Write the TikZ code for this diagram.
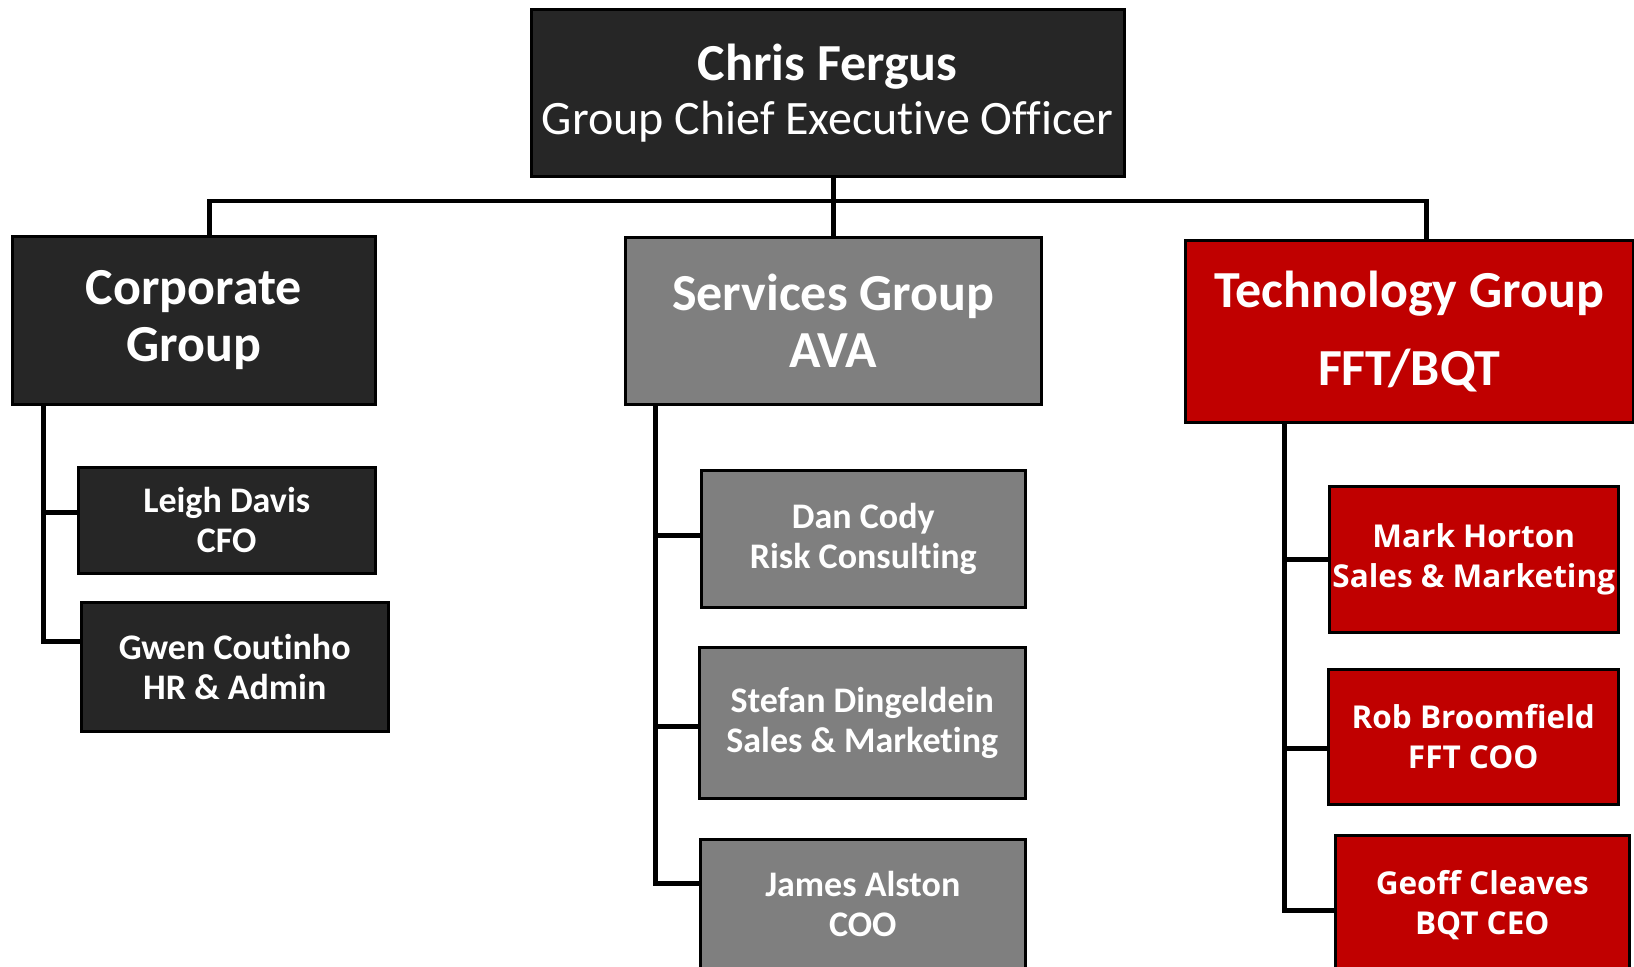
\documentclass[tikz,border=0pt]{standalone}
\usepackage{fontspec}
\setmainfont{Carlito}[Ligatures=NoCommon]
\newfontfamily\techfont{Open Sans}
\definecolor{darkfill}{HTML}{262626}
\definecolor{greyfill}{HTML}{7F7F7F}
\definecolor{redfill}{HTML}{C00000}

\begin{document}
\begin{tikzpicture}[x=1pt,y=-1pt,line width=4.8pt,
  box/.style={draw=black,line width=2.5pt,text=white,align=center,inner sep=0pt,anchor=north west},
  head/.style={box,font=\fontsize{52}{57}\selectfont\bfseries},
  member/.style={box,font=\fontsize{36}{40}\selectfont\bfseries},
  techmember/.style={box,fill=redfill,font=\techfont\fontsize{31.5}{40}\selectfont\bfseries}]

  \useasboundingbox (0,0) rectangle (1634,967);

  % top
  \node[box,fill=darkfill,minimum width=593pt,minimum height=167pt,
        font=\fontsize{48}{54}\selectfont] (ceo) at (530,8)
        {{\fontsize{52}{54}\selectfont\bfseries Chris Fergus}\\Group Chief Executive Officer};

  % groups
  \node[head,fill=darkfill,minimum width=363pt,minimum height=168pt] (corp) at (11,235) {Corporate\\Group};
  \node[head,fill=greyfill,minimum width=416pt,minimum height=167pt] (serv) at (624,236) {Services Group\\AVA};
  \node[head,fill=redfill,minimum width=448pt,minimum height=182pt,
        font=\fontsize{52}{78}\selectfont\bfseries] (tech) at (1184,239) {Technology Group\\FFT/BQT};

  % corporate
  \node[member,fill=darkfill,minimum width=297pt,minimum height=106pt] (davis) at (77,466) {Leigh Davis\\CFO};
  \node[member,fill=darkfill,minimum width=307pt,minimum height=129pt] (coutinho) at (80,601) {Gwen Coutinho\\HR \& Admin};

  % services
  \node[member,fill=greyfill,minimum width=324pt,minimum height=137pt] (cody) at (700,469) {Dan Cody\\Risk Consulting};
  \node[member,fill=greyfill,minimum width=326pt,minimum height=151pt] (dingeldein) at (698,646) {Stefan Dingeldein\\Sales \& Marketing};
  \node[member,fill=greyfill,minimum width=325pt,minimum height=130pt] (alston) at (699,838) {James Alston\\COO};

  % technology
  \node[techmember,minimum width=289pt,minimum height=146pt] (horton) at (1328,485) {Mark Horton\\Sales \& Marketing};
  \node[techmember,minimum width=290pt,minimum height=135pt] (broomfield) at (1327,668) {Rob Broomfield\\FFT COO};
  \node[techmember,minimum width=294pt,minimum height=140pt] (cleaves) at (1334,834) {Geoff Cleaves\\BQT CEO};

  \coordinate (bus) at (832,201);

  \draw (serv.north |- ceo.south) -- (serv.north);
  \draw ([xshift=16pt]corp.north) |- (bus) -| ([xshift=17pt]tech.north);

  \draw ([xshift=-150pt]corp.south) |- ([yshift=8pt]davis.west);
  \draw ([xshift=-150pt]corp.south) |- ([yshift=25pt]coutinho.west);

  \draw ([xshift=-178pt]serv.south) |- ([yshift=3pt]cody.west);
  \draw ([xshift=-178pt]serv.south) |- ([yshift=-4pt]dingeldein.west);
  \draw ([xshift=-178pt]serv.south) |- ([yshift=21pt]alston.west);

  \draw ([xshift=-125pt]tech.south) |- (horton.west);
  \draw ([xshift=-125pt]tech.south) |- ([yshift=-12pt]broomfield.west);
  \draw ([xshift=-125pt]tech.south) |- ([yshift=-5pt]cleaves.west);

\end{tikzpicture}
\end{document}
